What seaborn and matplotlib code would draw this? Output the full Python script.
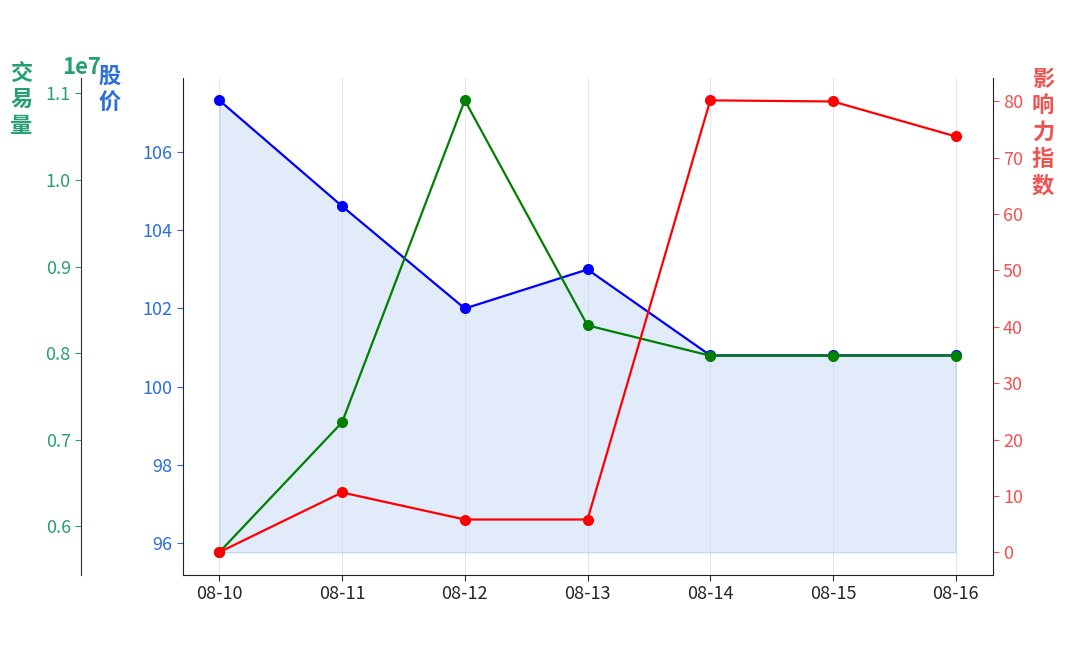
import numpy as np
import pandas as pd
import matplotlib
matplotlib.use("Agg")
import matplotlib.pyplot as plt
import seaborn as sns

dates = ["08-10", "08-11", "08-12", "08-13", "08-14", "08-15", "08-16"]
price = [107.33, 104.62, 102.0, 103.0, 100.8, 100.8, 100.8]
volume = [5.70e6, 7.20e6, 10.92e6, 8.32e6, 7.97e6, 7.97e6, 7.97e6]
influence = [0.0, 10.6, 5.8, 5.8, 80.2, 80.0, 73.8]

sns.set_style("ticks")
plt.rcParams['font.family'] = ['Noto Sans CJK SC', 'DejaVu Sans']
plt.rcParams['axes.unicode_minus'] = False

c_blue_txt = "#2a6fdb"
c_green_txt = "#26a073"
c_red_txt = "#ef5350"

df = pd.DataFrame({"pos": np.arange(len(dates)), "price": price,
                   "volume": volume, "influence": influence})

fig, ax = plt.subplots(figsize=(10.8, 6.48), dpi=100)
fig.subplots_adjust(left=0.169, right=0.919, bottom=0.113, top=0.880)

# stock price on the main axis
base = min(price) * 0.95
ax.fill_between(df["pos"], df["price"], base, color="#c9dbf7", alpha=0.55,
                edgecolor="#a9c6ef", linewidth=1)
sns.lineplot(data=df, x="pos", y="price", ax=ax, color="blue", marker="o",
             markersize=8, markeredgewidth=0, linewidth=1.6)
ax.set_xticks(df["pos"])
ax.set_xticklabels(dates)
ax.set_xlabel("")
ax.set_ylabel("股\n价", rotation=0, color=c_blue_txt, fontsize=16,
              fontweight="bold", linespacing=1.2)
ax.yaxis.set_label_coords(-0.09, 0.976)
ax.yaxis.label.set_va("center")
ax.tick_params(axis="y", colors=c_blue_txt, labelsize=13, length=4)
ax.tick_params(axis="x", labelsize=13, length=4)
ax.grid(axis="x", color="#e6e6e6", linewidth=0.8)
ax.spines["top"].set_visible(False)
ax.spines["right"].set_visible(False)
for s in ["left", "bottom"]:
    ax.spines[s].set_color("#222222")

# volume on an outer left axis
ax2 = ax.twinx()
ax2.spines["left"].set_position(("axes", -0.125))
ax2.spines["left"].set_visible(True)
ax2.spines["left"].set_color("#333333")
ax2.yaxis.set_label_position("left")
ax2.yaxis.set_ticks_position("left")
for s in ["right", "top", "bottom"]:
    ax2.spines[s].set_visible(False)
sns.lineplot(data=df, x="pos", y="volume", ax=ax2, color="green", marker="o",
             markersize=8, markeredgewidth=0, linewidth=1.6)
ax2.set_xlabel("")
ax2.set_ylabel("交\n易\n量", rotation=0, color=c_green_txt, fontsize=16,
               fontweight="bold", linespacing=1.2)
ax2.yaxis.set_label_coords(-0.199, 0.956)
ax2.yaxis.label.set_va("center")
ax2.tick_params(axis="y", colors=c_green_txt, labelsize=13, length=4)
off = ax2.yaxis.get_offset_text()
off.set_fontsize(16)
off.set_fontweight("bold")
off.set_color(c_green_txt)
off.set_x(-0.125)
off.set_ha("center")

# influence index on the right axis
ax3 = ax.twinx()
for s in ["left", "top", "bottom"]:
    ax3.spines[s].set_visible(False)
ax3.spines["right"].set_color("#222222")
sns.lineplot(data=df, x="pos", y="influence", ax=ax3, color="red", marker="o",
             markersize=8, markeredgewidth=0, linewidth=1.6)
ax3.set_xlabel("")
ax3.set_ylabel("影\n响\n力\n指\n数", rotation=0, color=c_red_txt, fontsize=16,
               fontweight="bold", linespacing=1.2)
ax3.yaxis.set_label_coords(1.062, 0.89)
ax3.yaxis.label.set_va("center")
ax3.tick_params(axis="y", colors=c_red_txt, labelsize=13, length=4)

ax.set_xlim(-0.3, 6.3)

fig.savefig("out.png", dpi=100)
